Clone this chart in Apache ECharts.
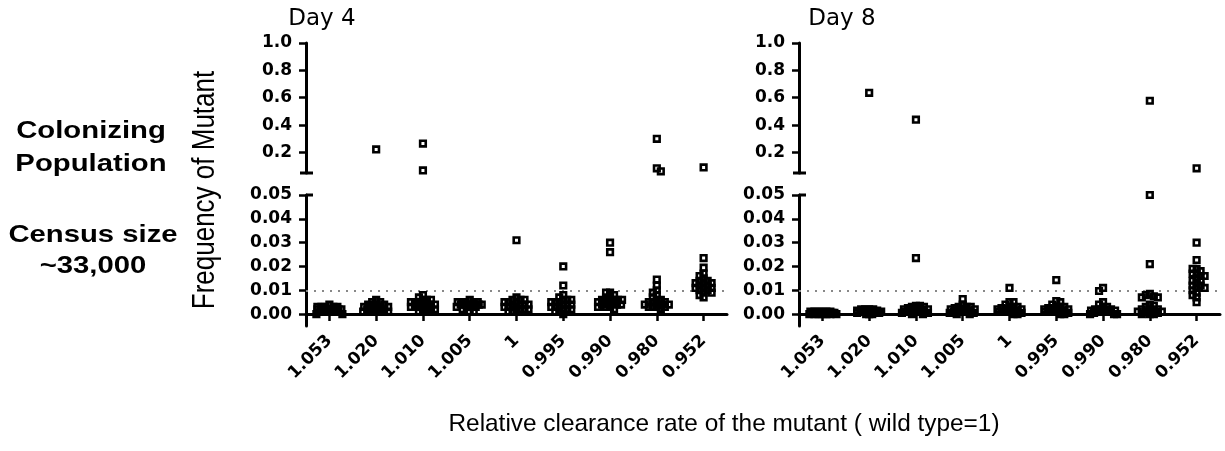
<!DOCTYPE html>
<html><head><meta charset="utf-8">
<script src="https://cdn.jsdelivr.net/npm/echarts@6/dist/echarts.min.js"></script>
<style>html,body{margin:0;padding:0;background:#fff}#chart{width:1225px;height:451px}</style>
</head><body><div id="chart"></div>
<script>
// ---------- data ----------
const categories = ['1.053','1.020','1.010','1.005','1','0.995','0.990','0.980','0.952'];
const upperTicks = [0.2, 0.4, 0.6, 0.8, 1.0];
const lowerTicks = [0, 0.01, 0.02, 0.03, 0.04, 0.05];
const breakValue = 0.05;
const refLine = 0.01;
const panelTitles = ['Day 4', 'Day 8'];

const d4_1053 = [0.000,0.001,0.001,0.002,0.002,0.002,0.003,0.003,0.001,0.002,0.004,0.003,0.001,0.002,0.000,0.002,0.003,0.001,0.002,0.001,0.003,0.002,0.001,0.002];
const d4_1020 = [0.001,0.002,0.002,0.003,0.003,0.004,0.002,0.001,0.003,0.005,0.006,0.002,0.003,0.004,0.001,0.002,0.005,0.003,0.002,0.004,0.003,0.001,0.222];
const d4_1010 = [0.001,0.002,0.003,0.004,0.005,0.006,0.007,0.008,0.003,0.004,0.002,0.005,0.006,0.003,0.004,0.001,0.005,0.004,0.003,0.006,0.002,0.265,0.069];
const d4_1005 = [0.002,0.003,0.004,0.004,0.005,0.005,0.004,0.003,0.006,0.004,0.003,0.005,0.004,0.001,0.001,0.004,0.005,0.003,0.004,0.005,0.003,0.004];
const d4_1    = [0.001,0.002,0.003,0.003,0.004,0.005,0.006,0.007,0.004,0.002,0.005,0.003,0.006,0.004,0.002,0.001,0.005,0.003,0.004,0.006,0.002,0.031];
const d4_0995 = [0.000,0.001,0.002,0.003,0.004,0.005,0.006,0.007,0.008,0.003,0.004,0.002,0.005,0.006,0.001,0.004,0.003,0.005,0.002,0.006,0.012,0.020];
const d4_0990 = [0.002,0.003,0.004,0.005,0.006,0.007,0.008,0.009,0.009,0.005,0.006,0.004,0.007,0.003,0.006,0.005,0.004,0.006,0.003,0.005,0.026,0.030];
const d4_0980 = [0.002,0.003,0.003,0.004,0.004,0.005,0.005,0.006,0.007,0.008,0.009,0.010,0.003,0.006,0.004,0.005,0.003,0.004,0.012,0.0145,0.300,0.084,0.062];
const d4_0952 = [0.007,0.008,0.009,0.010,0.010,0.011,0.011,0.012,0.012,0.013,0.013,0.014,0.015,0.016,0.017,0.014,0.011,0.009,0.013,0.0195,0.0235,0.091];

const d8_1053 = [0.000,0.0005,0.001,0.000,0.0005,0.001,0.000,0.0005,0.001,0.0005,0.000,0.001,0.0005,0.000,0.001,0.0005,0.000,0.001,0.0005,0.000];
const d8_1020 = [0.000,0.001,0.002,0.001,0.0005,0.002,0.001,0.000,0.001,0.002,0.0015,0.0005,0.001,0.000,0.002,0.001,0.0015,0.0005,0.001,0.636];
const d8_1010 = [0.000,0.001,0.002,0.003,0.0035,0.001,0.002,0.003,0.0005,0.0015,0.002,0.001,0.0035,0.002,0.000,0.0025,0.001,0.0015,0.0005,0.0235,0.440];
const d8_1005 = [0.000,0.001,0.002,0.003,0.004,0.001,0.002,0.003,0.0005,0.0015,0.002,0.001,0.003,0.002,0.000,0.0025,0.0015,0.001,0.0005,0.002,0.0063];
const d8_1    = [0.000,0.001,0.002,0.003,0.004,0.005,0.005,0.002,0.003,0.001,0.002,0.0015,0.0025,0.003,0.000,0.002,0.001,0.0005,0.0015,0.001,0.011];
const d8_0995 = [0.000,0.001,0.002,0.003,0.004,0.0055,0.005,0.002,0.003,0.001,0.002,0.0015,0.0025,0.003,0.000,0.002,0.001,0.0005,0.0015,0.001,0.0143];
const d8_0990 = [0.000,0.001,0.002,0.003,0.004,0.005,0.001,0.002,0.000,0.0015,0.002,0.001,0.003,0.000,0.001,0.0005,0.0015,0.001,0.0097,0.011];
const d8_0980 = [0.000,0.000,0.001,0.001,0.002,0.002,0.003,0.004,0.0035,0.007,0.0075,0.008,0.0085,0.007,0.001,0.002,0.000,0.0005,0.0015,0.001,0.021,0.050,0.578];
const d8_0952 = [0.005,0.007,0.008,0.009,0.010,0.011,0.011,0.012,0.012,0.013,0.014,0.014,0.015,0.016,0.016,0.017,0.017,0.018,0.019,0.019,0.0227,0.030,0.084];

const day4 = [d4_1053, d4_1020, d4_1010, d4_1005, d4_1, d4_0995, d4_0990, d4_0980, d4_0952];
const day8 = [d8_1053, d8_1020, d8_1010, d8_1005, d8_1, d8_0995, d8_0990, d8_0980, d8_0952];

// ---------- layout / style ----------
const LEFTS = [306, 799];
const GRID_W = 421;
const TITLE_X = [322, 842];
const lab = { fontFamily: 'DejaVu Sans', fontWeight: 'bold', fontSize: 17, color: '#000' };
const axisLine = { show: true, lineStyle: { color: '#000', width: 3 } };
const tickStyle = { color: '#000', width: 2.5 };
const symbolStyle = { color: 'rgba(255,255,255,0)', borderColor: '#000', borderWidth: 2.6, opacity: 1 };

const chart = echarts.init(document.getElementById('chart'));
const grids = [], xAxes = [], yAxes = [], series = [];

[day4, day8].forEach((groups, p) => {
  const left = LEFTS[p];
  const gu = p * 2, gl = p * 2 + 1;
  grids.push({ left: left, top: 43, width: GRID_W, height: 130 });
  grids.push({ left: left, top: 195, width: GRID_W, height: 131 });
  xAxes.push({ gridIndex: gu, type: 'category', data: categories, show: false });
  xAxes.push({ gridIndex: gl, type: 'category', data: categories, boundaryGap: true,
    axisLine: axisLine,
    axisTick: { show: true, alignWithLabel: true, length: 7, lineStyle: tickStyle },
    axisLabel: Object.assign({}, lab, { rotate: 45, margin: 12, interval: 0 }) });
  yAxes.push({ gridIndex: gu, type: 'value', min: breakValue, max: 1.0,
    splitLine: { show: false }, axisLine: axisLine,
    axisTick: { show: true, length: 7, customValues: upperTicks, lineStyle: tickStyle },
    axisLabel: Object.assign({}, lab, { margin: 14, customValues: upperTicks, formatter: v => Number(v).toFixed(1) }) });
  yAxes.push({ gridIndex: gl, type: 'value', min: -0.005, max: breakValue,
    splitLine: { show: false }, axisLine: axisLine,
    axisTick: { show: true, length: 7, customValues: lowerTicks, lineStyle: tickStyle },
    axisLabel: Object.assign({}, lab, { margin: 14, customValues: lowerTicks, formatter: v => Number(v).toFixed(2) }) });

  const up = [], lo = [];
  groups.forEach((vals, i) => vals.forEach(v => {
    (v > breakValue ? up : lo).push({ value: [i, v] });
  }));
  const common = { type: 'scatter', symbol: 'rect', symbolSize: 5.6, itemStyle: symbolStyle, silent: true, z: 5 };
  series.push(Object.assign({}, common, { xAxisIndex: gu, yAxisIndex: gu, data: up }));
  series.push(Object.assign({}, common, { xAxisIndex: gl, yAxisIndex: gl, data: lo,
    markLine: { silent: true, symbol: 'none', label: { show: false }, z: 1,
      lineStyle: { type: [2, 6], color: '#888', width: 2 },
      data: [{ yAxis: refLine }] } }));
});

chart.setOption({ animation: false, backgroundColor: '#fff',
  grid: grids, xAxis: xAxes, yAxis: yAxes, series: series });

// beeswarm-style horizontal spreading of overlapping points (layout only)
function swarm(ys, d, maxW) {
  const order = ys.map((_, i) => i).sort((a, b) => ys[a] - ys[b]);
  const placed = [], off = new Array(ys.length).fill(0);
  let flip = 1;
  for (const i of order) {
    const y = ys[i];
    let best = 0, bestScore = -1;
    for (let k = 0; k <= 2 * maxW; k++) {
      const c = k === 0 ? 0 : (k % 2 ? flip : -flip) * Math.ceil(k / 2);
      let minD = Infinity;
      for (const q of placed) {
        const dist = Math.max(Math.abs(q.x - c), Math.abs(q.y - y));
        if (dist < minD) minD = dist;
      }
      if (minD >= d) { best = c; bestScore = Infinity; break; }
      if (minD > bestScore) { bestScore = minD; best = c; }
    }
    flip = -flip;
    placed.push({ x: best, y: y });
    off[i] = best;
  }
  return off;
}

series.forEach((s, si) => {
  const byCat = {};
  s.data.forEach((d, di) => {
    const py = chart.convertToPixel({ seriesIndex: si }, d.value)[1];
    (byCat[d.value[0]] = byCat[d.value[0]] || []).push({ di: di, py: py });
  });
  Object.keys(byCat).forEach(k => {
    const list = byCat[k];
    const offs = swarm(list.map(o => o.py), 4, 14);
    list.forEach((o, j) => { s.data[o.di].symbolOffset = [offs[j], 0]; });
  });
});

const graphic = [];
const T = (id, x, y, text, font, extra) => graphic.push(Object.assign({ id: id, type: 'text', x: x, y: y, silent: true,
  style: { text: text, font: font, fill: '#000', align: 'center', verticalAlign: 'middle', textAlign: 'center', textVerticalAlign: 'middle' } }, extra || {}));

T('t1', 91, 131, 'Colonizing', 'bold 24px "Liberation Sans", Arial', { scaleX: 1.22 });
T('t2', 91, 164, 'Population', 'bold 24px "Liberation Sans", Arial', { scaleX: 1.22 });
T('t3', 93, 235, 'Census size', 'bold 24px "Liberation Sans", Arial', { scaleX: 1.22 });
T('t4', 93, 266, '~33,000', 'bold 24px "Liberation Sans", Arial', { scaleX: 1.22 });
T('t5', 205, 190, 'Frequency of Mutant', '26px "Liberation Sans", Arial', { rotation: Math.PI / 2, scaleY: 1.2 });
T('t6', 724, 424, 'Relative clearance rate of the mutant ( wild type=1)', '24.4px "Liberation Sans", Arial');
panelTitles.forEach((t, p) => T('pt' + p, TITLE_X[p], 19, t, '23px "DejaVu Sans"'));

// axis-break caps
LEFTS.forEach((left, p) => {
  const yb = chart.convertToPixel({ yAxisIndex: p * 2 }, breakValue);
  const yt = chart.convertToPixel({ yAxisIndex: p * 2 + 1 }, breakValue);
  graphic.push({ id: 'cb' + p, type: 'line', silent: true, shape: { x1: left - 6, y1: yb, x2: left + 7, y2: yb }, style: { stroke: '#000', lineWidth: 3 } });
  graphic.push({ id: 'ct' + p, type: 'line', silent: true, shape: { x1: left, y1: yt, x2: left + 7, y2: yt }, style: { stroke: '#000', lineWidth: 3 } });
});

chart.setOption({ series: series.map(s => ({ data: s.data })), graphic: graphic });
</script></body></html>
